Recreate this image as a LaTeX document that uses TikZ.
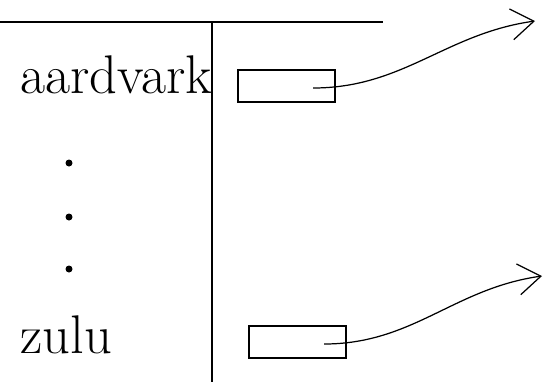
\documentclass[tikz,border=0pt]{standalone}
\usepackage{tikz}
\usetikzlibrary{arrows.meta, positioning}

\begin{document}
\begin{tikzpicture}[line width=0.7pt,
                    word/.style={anchor=base west,inner sep=0pt,font=\fontsize{31}{37}\selectfont},
                    slot/.style={draw,rectangle,minimum width=1.94cm,minimum height=0.64cm,inner sep=0pt},
                    dot/.style={circle,fill,inner sep=0pt,minimum size=0.14cm},
                    ptr/.style={-{Straight Barb[length=4.5mm,width=6.2mm]}}]

 \useasboundingbox (0,0) rectangle (10.86,-7.64);

 \coordinate (topL) at (0,-0.44);
 \coordinate (topR) at (7.66,-0.44);
 \coordinate (colT) at (4.24,-0.44);
 \coordinate (colB) at (4.24,-7.64);
 \draw (topL) -- (topR);
 \draw (colT) -- (colB);

 \node[word] (aardvark) at (0.40,-1.86) {aardvark};
 \node[dot] (dot1) at (1.38,-3.26) {};
 \node[dot] (dot2) at (1.38,-4.34) {};
 \node[dot] (dot3) at (1.38,-5.38) {};
 \node[word] (zulu) at (0.40,-7.06) {zulu};

 \node[slot] (slot1) at (5.73,-1.72) {};
 \node[slot] (slot2) at (5.95,-6.84) {};

 \coordinate (from1) at (6.26,-1.76);
 \coordinate (to1) at (10.70,-0.42);
 \coordinate (from2) at (6.48,-6.88);
 \coordinate (to2) at (10.84,-5.52);

 \path[ptr]
   (from1) edge[out=0,in=188] (to1)
   (from2) edge[out=0,in=188] (to2);

\end{tikzpicture}
\end{document}
